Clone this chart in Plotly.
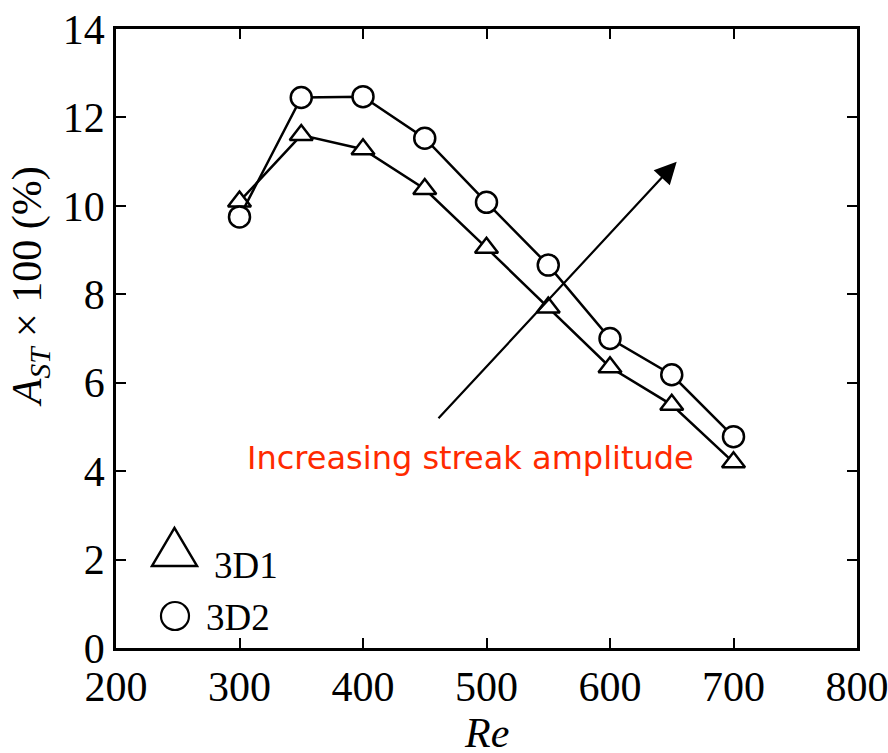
import plotly.graph_objects as go

re_vals = [300, 350, 400, 450, 500, 550, 600, 650, 700]
a_3d1 = [10.1, 11.6, 11.28, 10.38, 9.05, 7.7, 6.35, 5.5, 4.2]
a_3d2 = [9.75, 12.45, 12.47, 11.53, 10.08, 8.66, 7.0, 6.18, 4.78]
x_ticks = [200, 300, 400, 500, 600, 700, 800]
y_ticks = [0, 2, 4, 6, 8, 10, 12, 14]

serif = "Liberation Serif, Times New Roman, serif"

fig = go.Figure()
fig.add_trace(go.Scatter(
    x=re_vals, y=a_3d1, mode="lines+markers", name="3D1",
    line=dict(color="black", width=2.5),
    marker=dict(symbol="triangle-up", size=20, color="white",
                line=dict(color="black", width=2.5)),
))
fig.add_trace(go.Scatter(
    x=re_vals, y=a_3d2, mode="lines+markers", name="3D2",
    line=dict(color="black", width=2.5),
    marker=dict(symbol="circle", size=21, color="white",
                line=dict(color="black", width=2.5)),
))

axis_common = dict(
    showgrid=False, zeroline=False, showline=True, linecolor="black",
    linewidth=2.5, mirror="ticks", ticks="inside", ticklen=10,
    tickwidth=2, tickcolor="black", ticklabeloverflow="allow", automargin=False,
    tickfont=dict(family=serif, size=42, color="black"),
)
fig.update_xaxes(range=[200, 800], tickvals=x_ticks, **axis_common)
fig.update_yaxes(range=[0, 14], tickvals=y_ticks, **axis_common)

# arrow
fig.add_annotation(x=654, y=11.0, ax=460, ay=5.16, xref="x", yref="y",
                   axref="x", ayref="y", text="", showarrow=True,
                   arrowhead=2, arrowsize=2.0, arrowwidth=2.2, arrowcolor="black")
fig.add_annotation(x=487, y=4.3, xref="x", yref="y", text="Increasing streak amplitude",
                   showarrow=False, font=dict(family="DejaVu Sans", size=32, color="#ff2a00"))

# axis titles
fig.add_annotation(x=-0.116, y=0.583, xref="paper", yref="paper",
                   text="<i>A</i><sub><i>ST</i></sub> × 100 (%)", textangle=-90,
                   showarrow=False, xanchor="center", yanchor="middle",
                   font=dict(family=serif, size=42, color="black"))
fig.add_annotation(x=0.5, y=-0.138, xref="paper", yref="paper", text="<i>Re</i>",
                   showarrow=False, xanchor="center", yanchor="middle",
                   font=dict(family=serif, size=42, color="black"))

# legend
fig.add_shape(type="path", xref="paper", yref="paper",
              path="M 0.0486 0.1325 L 0.1093 0.1325 L 0.0789 0.1939 Z",
              line=dict(color="black", width=2.5), fillcolor="white")
fig.add_shape(type="circle", xref="paper", yref="paper",
              x0=0.0607, x1=0.0985, y0=0.0291, y1=0.0743,
              line=dict(color="black", width=2.2), fillcolor="white")
fig.add_annotation(x=0.1296, y=0.134, xref="paper", yref="paper", text="3D1",
                   showarrow=False, xanchor="left", yanchor="middle",
                   font=dict(family=serif, size=37, color="black"))
fig.add_annotation(x=0.1188, y=0.050, xref="paper", yref="paper", text="3D2",
                   showarrow=False, xanchor="left", yanchor="middle",
                   font=dict(family=serif, size=37, color="black"))

fig.update_layout(
    width=888, height=753, showlegend=False,
    margin=dict(l=116, r=31, t=29, b=105),
    plot_bgcolor="white", paper_bgcolor="white",
)
fig.write_html("out.html")
